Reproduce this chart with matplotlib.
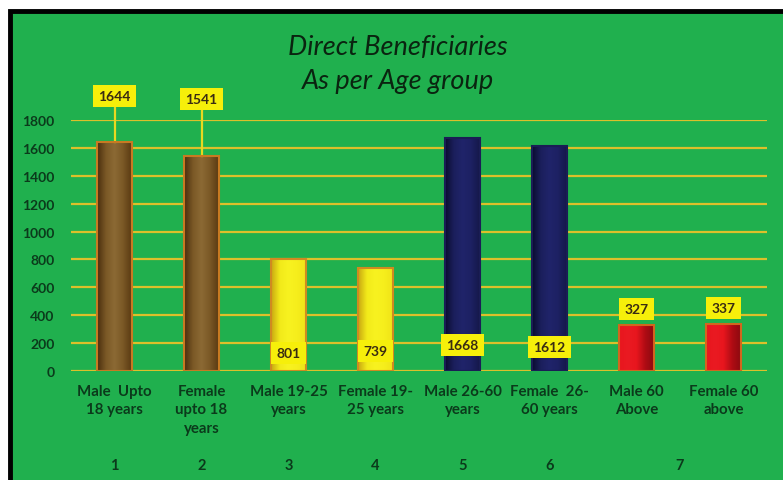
import numpy as np
from matplotlib import pyplot as plt
from matplotlib.colors import LinearSegmentedColormap
from matplotlib.patches import Rectangle
from matplotlib.transforms import blended_transform_factory

# Data
categories = [
    "Male  Upto\n18 years",
    "Female\nupto 18\nyears",
    "Male 19-25\nyears",
    "Female 19-\n25 years",
    "Male 26-60\nyears",
    "Female  26-\n60 years",
    "Male 60\nAbove",
    "Female 60\nabove",
]
values = [1644, 1541, 801, 739, 1668, 1612, 327, 337]
group_labels = ["1", "2", "3", "4", "5", "6", "7"]
group_members = [[0], [1], [2], [3], [4], [5], [6, 7]]
y_ticks = [0, 200, 400, 600, 800, 1000, 1200, 1400, 1600, 1800]

# Layout / style (not data)
label_y = [1973, 1951, 129, 143, 186, 172, 445, 452]
leader = [True, True, False, False, False, False, False, False]
bar_style = ["brown", "brown", "yellow", "yellow", "navy", "navy", "red", "red"]
GREEN = "#20b04e"
GRID = "#dcc02a"
TEXT = "#0b3a1b"
BOX = "#f6ef0a"

cmaps = {
    "brown": LinearSegmentedColormap.from_list(
        "brown", ["#4a2e0e", "#7a5826", "#8c6a34", "#7a5826", "#5a3a12"]),
    "yellow": LinearSegmentedColormap.from_list(
        "yellow", ["#c9a812", "#f2ea1a", "#f8f220", "#f6ee1c", "#f0e418"]),
    "navy": LinearSegmentedColormap.from_list(
        "navy", ["#0a0c30", "#1b1f5c", "#20246a", "#1d2163", "#15184a"]),
    "red": LinearSegmentedColormap.from_list(
        "red", ["#e8161e", "#ea1a22", "#e8161e", "#b00c14", "#8c0a10"]),
}
edge = {"brown": "#c77a22", "yellow": "#d08a20", "navy": "#1a1d55", "red": "#d2661e"}

fig = plt.figure(figsize=(7.83, 4.81), dpi=100)
fig.patch.set_facecolor("white")
fig.patches.append(Rectangle((10 / 783, -0.05), 1.05, 0.975 + 0.05,
                             transform=fig.transFigure, facecolor=GREEN,
                             edgecolor="black", linewidth=3.5, zorder=-1))

ax = fig.add_axes([71 / 783, 1 - 372 / 481, 696 / 783, 251 / 481])
ax.set_facecolor("none")

x = np.arange(len(values))
bars = ax.bar(x, values, width=0.40, facecolor="none", zorder=3)
grad = np.linspace(0, 1, 64).reshape(1, -1)
for b, style in zip(bars, bar_style):
    x0, w, h = b.get_x(), b.get_width(), b.get_height()
    ax.imshow(grad, extent=(x0, x0 + w, 0, h), aspect="auto",
              cmap=cmaps[style], zorder=2, interpolation="bicubic")
    b.set_edgecolor(edge[style])
    b.set_linewidth(1.5)

ax.set_xlim(-0.5, len(values) - 0.5)
ax.set_ylim(0, 1800)
ax.set_yticks(y_ticks)
ax.yaxis.grid(True, color=GRID, linewidth=1.6, zorder=1)
ax.set_axisbelow(True)
for s in ax.spines.values():
    s.set_visible(False)
ax.tick_params(axis="y", length=0, pad=12, labelsize=10, labelcolor=TEXT)
ax.tick_params(axis="x", length=0, labelbottom=False)
for t in ax.get_yticklabels():
    t.set_fontweight("bold")
    t.set_fontfamily("Lato")

# value labels
for i, (v, ly, ld) in enumerate(zip(values, label_y, leader)):
    if ld:
        ax.plot([i, i], [v, ly - 60], color="#e8d820", linewidth=1.6,
                zorder=2.5, clip_on=False)
    ax.text(i, ly, str(v), ha="center", va="center", fontsize=10,
            fontweight="bold", color="#3a2c12", family="Lato", zorder=5,
            clip_on=False,
            bbox=dict(boxstyle="square,pad=0.38", facecolor=BOX, edgecolor="none"))

# category labels and group numbers
tr = blended_transform_factory(ax.transData, fig.transFigure)
for i, c in enumerate(categories):
    ax.text(i, 1 - 385 / 481, c, transform=tr, ha="center", va="top",
            fontsize=10.8, fontweight="bold", color=TEXT, family="Lato",
            linespacing=1.4)
for g, members in zip(group_labels, group_members):
    ax.text(np.mean(members), 1 - 466 / 481, g, transform=tr, ha="center",
            va="center", fontsize=10.5, fontweight="bold", color=TEXT, family="Lato")

fig.text(398 / 783, 1 - 47 / 481, "Direct Beneficiaries", ha="center", va="center",
         fontsize=19.5, style="italic", color="#0a2410", family="Lato")
fig.text(398 / 783, 1 - 82 / 481, "As per Age group", ha="center", va="center",
         fontsize=19.5, style="italic", color="#0a2410", family="Lato")

fig.savefig("out.png", dpi=100)
